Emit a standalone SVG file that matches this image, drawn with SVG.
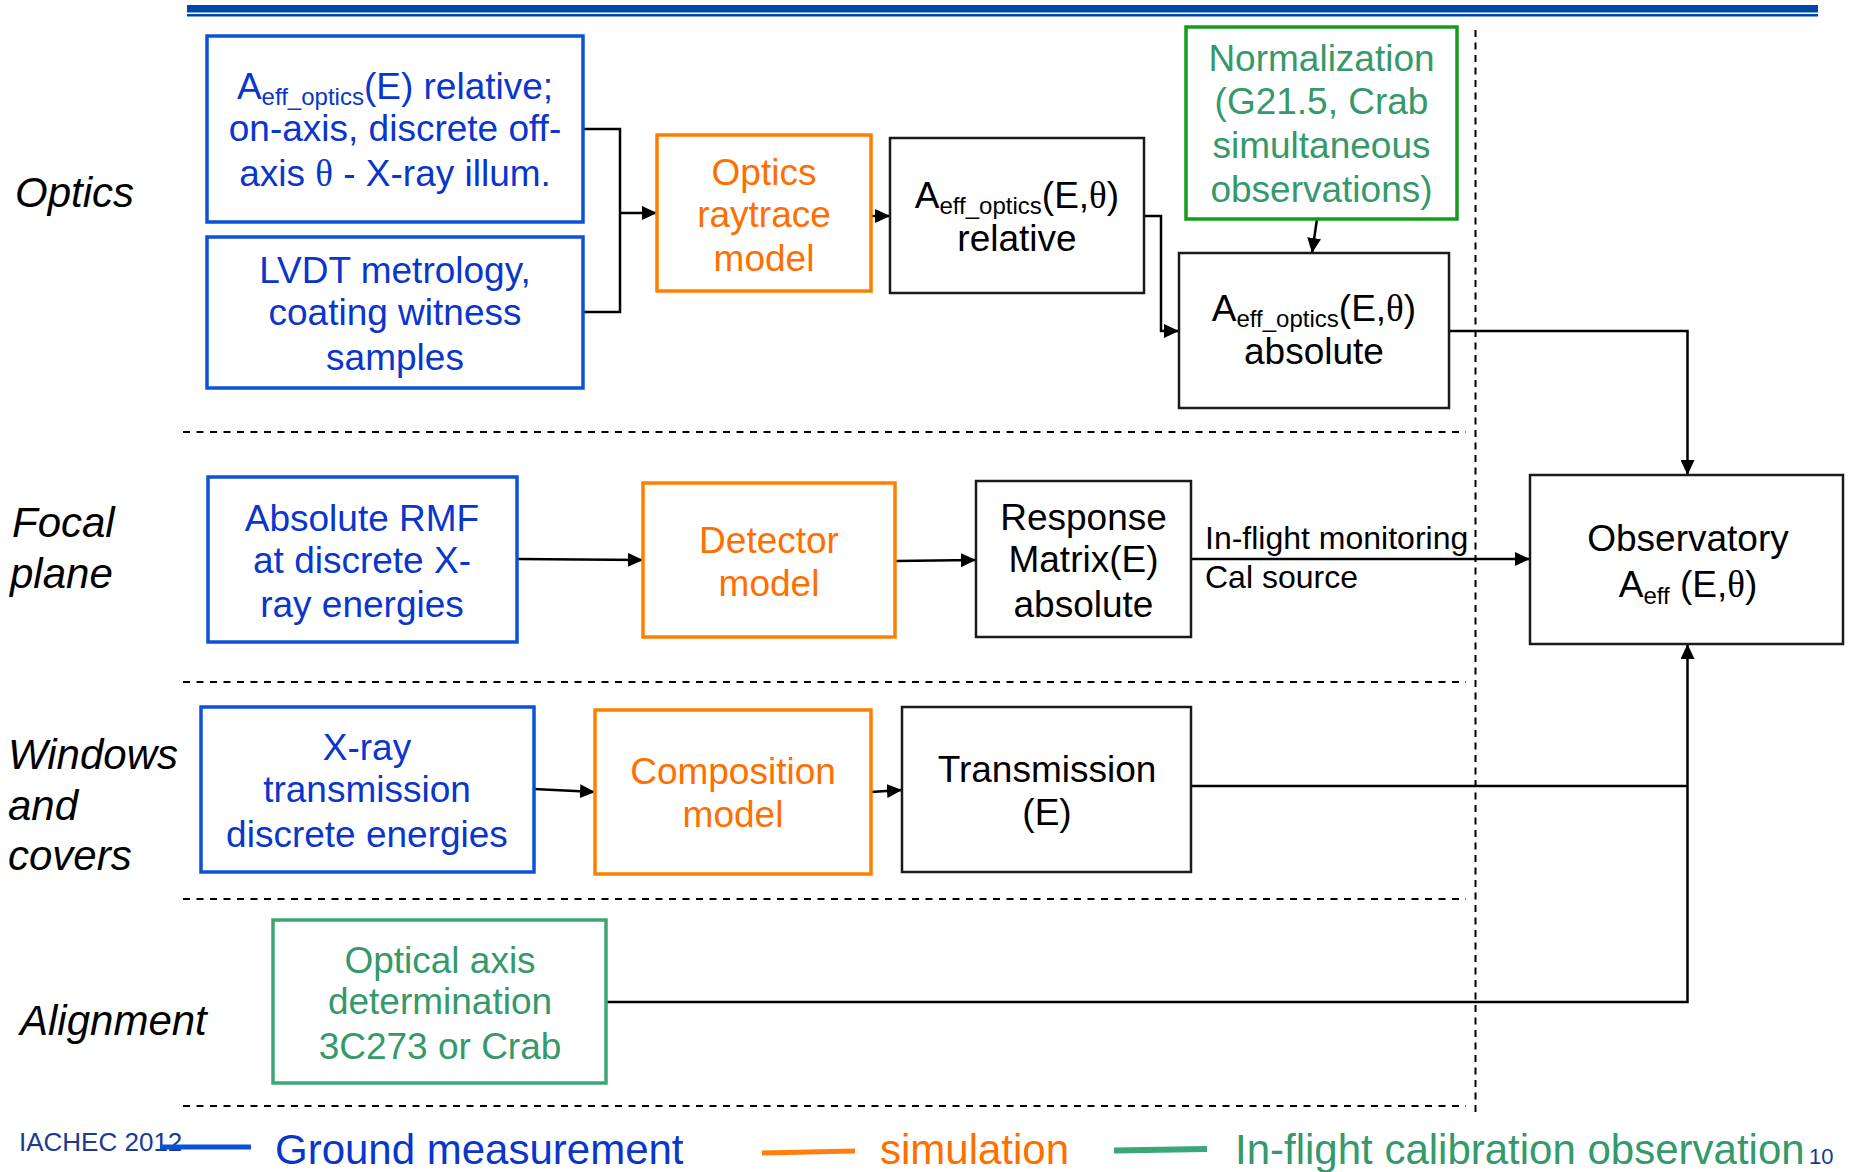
<svg xmlns="http://www.w3.org/2000/svg" width="1849" height="1172" viewBox="0 0 1849 1172">
<style>
  text { font-family: "Liberation Sans", Arial, sans-serif; }
  .bt { font-size: 37px; text-anchor: middle; }
  .blue { fill: #0a36cc; }
  .org { fill: #ff6f00; }
  .grn { fill: #35996a; }
  .blk { fill: #000; }
  .lab { font-size: 42px; font-style: italic; fill: #000; }
  .sub { font-size: 24px; }
  .bbox { fill: #fff; stroke: #0b52d8; stroke-width: 3.5; }
  .obox { fill: #fff; stroke: #ff8000; stroke-width: 3.5; }
  .gbox { fill: #fff; stroke: #159c1a; stroke-width: 3.5; }
  .tbox { fill: #fff; stroke: #3ca776; stroke-width: 3.5; }
  .kbox { fill: #fff; stroke: #1a1a1a; stroke-width: 2.5; }
  .con { fill: none; stroke: #000; stroke-width: 2.5; }
  .arr { marker-end: url(#ah); }
  .hdash { stroke: #000; stroke-width: 2; stroke-dasharray: 7 6.5; fill: none; }
  .vdash { stroke: #000; stroke-width: 2; stroke-dasharray: 7 5.5; fill: none; }
  .th { font-family: "Liberation Serif", serif; }
</style>
<defs>
  <marker id="ah" viewBox="0 0 15 14" refX="15" refY="7" markerWidth="15" markerHeight="14" markerUnits="userSpaceOnUse" orient="auto">
    <path d="M0,0 L15,7 L0,14 z" fill="#000"/>
  </marker>
</defs>
<rect width="1849" height="1172" fill="#fff"/>

<g id="header">
  <rect x="187" y="5" width="1631" height="7.5" fill="#0047ab"/>
  <rect x="187" y="14" width="1631" height="2.5" fill="#0047ab"/>
</g>

<g id="separators">
  <path class="hdash" d="M183,432 H1466"/>
  <path class="hdash" d="M183,682 H1466"/>
  <path class="hdash" d="M183,899 H1466"/>
  <path class="hdash" d="M183,1106 H1466"/>
  <path class="vdash" d="M1475.5,30 V1113"/>
</g>

<g id="row-labels">
  <text class="lab" x="15" y="207">Optics</text>
  <text class="lab" x="12" y="537">Focal</text>
  <text class="lab" x="10" y="588">plane</text>
  <text class="lab" x="8" y="769">Windows</text>
  <text class="lab" x="8" y="820">and</text>
  <text class="lab" x="8" y="870">covers</text>
  <text class="lab" x="20" y="1035">Alignment</text>
</g>

<g id="connectors">
  <path class="con" d="M583,129 H620 V312 H583"/>
  <path class="con arr" d="M620,213 H657"/>
  <path class="con arr" d="M871,216 H890"/>
  <path class="con arr" d="M1144,216 H1161 V331 H1179"/>
  <path class="con arr" d="M1317,219 L1312,253"/>
  <path class="con arr" d="M1449,331 H1687.5 V475"/>
  <path class="con arr" d="M517,559 L643,560"/>
  <path class="con arr" d="M895,561 L976,560"/>
  <path class="con arr" d="M1191,559 H1530"/>
  <path class="con arr" d="M534,789 L595,792"/>
  <path class="con arr" d="M871,792 L902,790"/>
  <path class="con" d="M1191,786 H1687.5"/>
  <path class="con arr" d="M606,1002 H1687.5 V644"/>
  <text x="1205" y="549" font-size="32" fill="#000">In-flight monitoring</text>
  <text x="1205" y="588" font-size="32" fill="#000">Cal source</text>
</g>

<g id="aeff-optics-relative-ground">
  <rect class="bbox" x="207" y="36" width="376" height="186"/>
  <text class="bt blue" x="395" y="99">A<tspan class="sub" dy="6">eff_optics</tspan><tspan dy="-6">(E) relative;</tspan></text>
  <text class="bt blue" x="395" y="141">on-axis, discrete off-</text>
  <text class="bt blue" x="395" y="186">axis <tspan class="th">θ</tspan> - X-ray illum.</text>
</g>

<g id="lvdt">
  <rect class="bbox" x="207" y="237" width="376" height="151"/>
  <text class="bt blue" x="395" y="283">LVDT metrology,</text>
  <text class="bt blue" x="395" y="325">coating witness</text>
  <text class="bt blue" x="395" y="370">samples</text>
</g>

<g id="optics-raytrace">
  <rect class="obox" x="657" y="135" width="214" height="156"/>
  <text class="bt org" x="764" y="185">Optics</text>
  <text class="bt org" x="764" y="227">raytrace</text>
  <text class="bt org" x="764" y="271">model</text>
</g>

<g id="aeff-relative">
  <rect class="kbox" x="890" y="138" width="254" height="155"/>
  <text class="bt blk" x="1017" y="208">A<tspan class="sub" dy="6">eff_optics</tspan><tspan dy="-6">(E,<tspan class="th">θ</tspan>)</tspan></text>
  <text class="bt blk" x="1017" y="251">relative</text>
</g>

<g id="normalization">
  <rect class="gbox" x="1186" y="27" width="271" height="192"/>
  <text class="bt grn" x="1321.5" y="71">Normalization</text>
  <text class="bt grn" x="1321.5" y="114">(G21.5, Crab</text>
  <text class="bt grn" x="1321.5" y="158">simultaneous</text>
  <text class="bt grn" x="1321.5" y="202">observations)</text>
</g>

<g id="aeff-absolute">
  <rect class="kbox" x="1179" y="253" width="270" height="155"/>
  <text class="bt blk" x="1314" y="321">A<tspan class="sub" dy="6">eff_optics</tspan><tspan dy="-6">(E,<tspan class="th">θ</tspan>)</tspan></text>
  <text class="bt blk" x="1314" y="364">absolute</text>
</g>

<g id="absolute-rmf">
  <rect class="bbox" x="208" y="477" width="309" height="165"/>
  <text class="bt blue" x="362" y="531">Absolute RMF</text>
  <text class="bt blue" x="362" y="573">at discrete X-</text>
  <text class="bt blue" x="362" y="617">ray energies</text>
</g>

<g id="detector-model">
  <rect class="obox" x="643" y="483" width="252" height="154"/>
  <text class="bt org" x="769" y="553">Detector</text>
  <text class="bt org" x="769" y="596">model</text>
</g>

<g id="response-matrix">
  <rect class="kbox" x="976" y="481" width="215" height="156"/>
  <text class="bt blk" x="1083.5" y="530">Response</text>
  <text class="bt blk" x="1083.5" y="572">Matrix(E)</text>
  <text class="bt blk" x="1083.5" y="617">absolute</text>
</g>

<g id="observatory">
  <rect class="kbox" x="1530" y="475" width="313" height="169"/>
  <text class="bt blk" x="1688" y="551">Observatory</text>
  <text class="bt blk" x="1688" y="597">A<tspan class="sub" dy="7">eff</tspan><tspan dy="-7"> (E,<tspan class="th">θ</tspan>)</tspan></text>
</g>

<g id="xray-transmission">
  <rect class="bbox" x="201" y="707" width="333" height="165"/>
  <text class="bt blue" x="367" y="760">X-ray</text>
  <text class="bt blue" x="367" y="802">transmission</text>
  <text class="bt blue" x="367" y="847">discrete energies</text>
</g>

<g id="composition-model">
  <rect class="obox" x="595" y="710" width="276" height="164"/>
  <text class="bt org" x="733" y="784">Composition</text>
  <text class="bt org" x="733" y="827">model</text>
</g>

<g id="transmission">
  <rect class="kbox" x="902" y="707" width="289" height="165"/>
  <text class="bt blk" x="1047" y="782">Transmission</text>
  <text class="bt blk" x="1047" y="825">(E)</text>
</g>

<g id="optical-axis">
  <rect class="tbox" x="273" y="920" width="333" height="163"/>
  <text class="bt grn" x="440" y="973">Optical axis</text>
  <text class="bt grn" x="440" y="1014">determination</text>
  <text class="bt grn" x="440" y="1059">3C273 or Crab</text>
</g>

<g id="legend">
  <text x="19" y="1151" font-size="26" fill="#1c3a8e">IACHEC 2012</text>
  <path d="M160,1147 H251" stroke="#0b52d8" stroke-width="5"/>
  <text x="275" y="1164" font-size="42" fill="#0a36cc">Ground measurement</text>
  <path d="M762,1153 L855,1151" stroke="#ff7f0e" stroke-width="5"/>
  <text x="880" y="1164" font-size="42" fill="#ff6f00">simulation</text>
  <path d="M1114,1150.5 L1207,1149" stroke="#3aa67a" stroke-width="6"/>
  <text x="1235" y="1164" font-size="42" fill="#35996a">In-flight calibration observation</text>
  <text x="1809" y="1164" font-size="22" fill="#1c3a8e">10</text>
</g>
</svg>
